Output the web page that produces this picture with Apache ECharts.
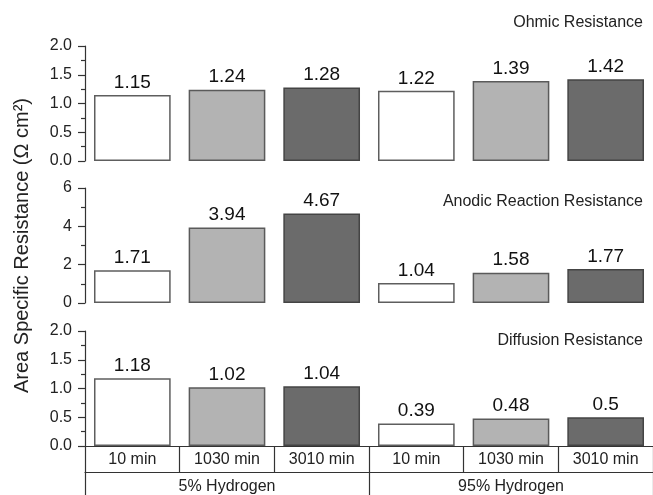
<!DOCTYPE html>
<html>
<head>
<meta charset="utf-8">
<script src="https://cdn.jsdelivr.net/npm/echarts@6/dist/echarts.min.js"></script>
<style>html,body{margin:0;padding:0;background:#fff;}#c{width:653px;height:495px;}</style>
</head>
<body>
<div id="c"></div>
<script>
const categories = ['10 min', '1030 min', '3010 min', '10 min', '1030 min', '3010 min'];
const groups = ['5% Hydrogen', '95% Hydrogen'];
const ohmic = [1.15, 1.24, 1.28, 1.22, 1.39, 1.42];
const anodic = [1.71, 3.94, 4.67, 1.04, 1.58, 1.77];
const diffusion = [1.18, 1.02, 1.04, 0.39, 0.48, 0.5];
const panelTitles = ['Ohmic Resistance', 'Anodic Reaction Resistance', 'Diffusion Resistance'];
const yMax = [2, 6, 2];
const yInterval = [0.5, 2, 0.5];
const yAxisTitle = 'Area Specific Resistance (\u03A9 cm\u00B2)';

const FONT = 'Liberation Sans, Arial, sans-serif';
const fills = ['#ffffff', '#b3b3b3', '#6b6b6b'];
const borders = ['#5e5e5e', '#5a5a5a', '#444444'];
const axisColor = '#333';

const grids = [
  {left: 85, right: 0, top: 46, height: 115},
  {left: 85, right: 0, top: 188, height: 115},
  {left: 85, right: 0, top: 331, height: 115}
];

function barData(vals) {
  return vals.map((v, i) => ({
    value: v,
    itemStyle: {color: fills[i % 3], borderColor: borders[i % 3], borderWidth: 1.5}
  }));
}

const xAxes = [
  {gridIndex: 0, type: 'category', data: categories, show: false},
  {gridIndex: 1, type: 'category', data: categories, show: false},
  {gridIndex: 2, type: 'category', data: categories, position: 'bottom',
    axisLine: {show: true, lineStyle: {color: axisColor, width: 1.2}},
    axisTick: {show: true, interval: 0, length: 26, lineStyle: {color: axisColor, width: 1.2}},
    axisLabel: {interval: 0, margin: 6, fontSize: 16, color: '#222', fontFamily: FONT}},
  {gridIndex: 2, type: 'category', data: groups, position: 'bottom', offset: 26,
    axisLine: {show: true, lineStyle: {color: axisColor, width: 1.2}},
    axisTick: {show: true, interval: 0, length: 23, lineStyle: {color: axisColor, width: 1.2}},
    axisLabel: {interval: 0, margin: 7, fontSize: 16, color: '#222', fontFamily: FONT}}
];

const yAxes = [0, 1, 2].map(i => ({
  gridIndex: i, type: 'value', min: 0, max: yMax[i], interval: yInterval[i],
  axisLine: {show: true, lineStyle: {color: axisColor, width: 1.2}},
  axisTick: {show: true, length: 7, lineStyle: {color: axisColor, width: 1.2}},
  minorTick: {show: true, splitNumber: 2, length: 4, lineStyle: {color: axisColor, width: 1.2}},
  splitLine: {show: false},
  axisLabel: {fontSize: 16, color: '#222', margin: 13, fontFamily: FONT,
    formatter: v => yInterval[i] < 1 ? v.toFixed(1) : String(v)},
  name: i === 1 ? yAxisTitle : '',
  nameLocation: 'middle', nameGap: 53, nameRotate: 90,
  nameTextStyle: {fontSize: 20, color: '#222', fontFamily: FONT}
}));

const seriesVals = [ohmic, anodic, diffusion];
const series = seriesVals.map((vals, i) => ({
  type: 'bar', xAxisIndex: i, yAxisIndex: i,
  data: barData(vals), barCategoryGap: '19%',
  label: {show: true, position: 'top', distance: 3, fontSize: 19, color: '#111', fontFamily: FONT},
  silent: true
}));

const titleTops = [15, 194, 333];
const titles = panelTitles.map((t, i) => ({
  text: t, right: 10, top: titleTops[i], padding: 0,
  textStyle: {fontSize: 16, fontWeight: 'normal', color: '#222', fontFamily: FONT}
}));

const chart = echarts.init(document.getElementById('c'), null, {renderer: 'canvas'});
chart.setOption({
  animation: false,
  backgroundColor: '#fff',
  title: titles,
  grid: grids,
  xAxis: xAxes,
  yAxis: yAxes,
  series: series
});
</script>
</body>
</html>
